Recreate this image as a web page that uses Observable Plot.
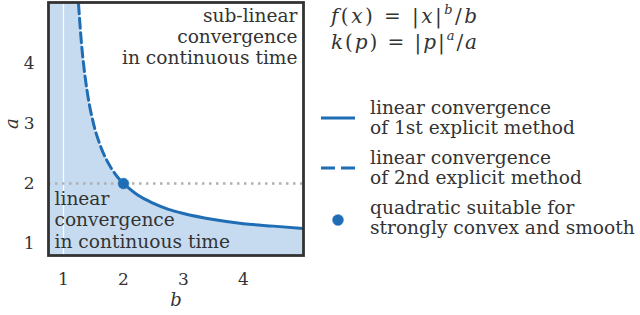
<!DOCTYPE html>
<html>
<head>
<meta charset="utf-8">
<script src="https://cdn.jsdelivr.net/npm/d3@7"></script>
<script src="https://cdn.jsdelivr.net/npm/@observablehq/plot@0.6"></script>
<style>
  html, body { margin: 0; padding: 0; background: white; }
</style>
</head>
<body>
<div id="chart"></div>
<script>
// Curve a(b): dashed part (b <= 2) and solid part (b >= 2)
const bDashed = [1.25, 1.3, 1.35, 1.4, 1.5, 1.6, 1.7, 1.8, 1.9, 2.0];
const aDashed = [5.0, 4.33, 3.86, 3.5, 3.0, 2.67, 2.43, 2.25, 2.11, 2.0];
const bSolid = [2.0, 2.25, 2.5, 2.75, 3.0, 3.5, 4.0, 4.5, 5.0];
const aSolid = [2.0, 1.8, 1.67, 1.57, 1.5, 1.4, 1.33, 1.29, 1.25];
// Shaded region: full height left of the curve, then below the curve
const bShadeLeft = [0.75];
const aShadeLeft = [5.02];
const pointB = [2];
const pointA = [2];
const xTicks = [1, 2, 3, 4];
const yTicks = [1, 2, 3, 4];
const thresholdA = [2];
const asymptoteB = [1];

const subText = "sub-linear\nconvergence\nin continuous time";
const linText = "linear\nconvergence\nin continuous time";

const legendEntries = [
  {kind: "solid", lines: ["linear convergence", "of 1st explicit method"]},
  {kind: "dashed", lines: ["linear convergence", "of 2nd explicit method"]},
  {kind: "dot", lines: ["quadratic suitable for", "strongly convex and smooth"]}
];

const dashed = bDashed.map((b, i) => ({b, a: aDashed[i]}));
const solid = bSolid.map((b, i) => ({b, a: aSolid[i]}));
const shade = bShadeLeft.map((b, i) => ({b, a: aShadeLeft[i]})).concat(dashed, solid.slice(1));
const pts = pointB.map((b, i) => ({b, a: pointA[i]}));

const blue = "#1f6db4";
const ink = "#333333";
const font = "DejaVu Serif";

const svg = Plot.plot({
  width: 640,
  height: 315,
  marginLeft: 48,
  marginRight: 337,
  marginTop: 2,
  marginBottom: 60,
  x: {domain: [0.75, 5.0]},
  y: {domain: [0.8, 5.02]},
  style: {fontFamily: font, fontSize: "17px", color: ink, background: "white"},
  marks: [
    Plot.areaY(shade, {x: "b", y1: 0.8, y2: "a", fill: "#c6dbef", curve: "monotone-x", clip: true}),
    Plot.ruleX(asymptoteB, {x: d => d, stroke: "white", strokeWidth: 1.3, strokeOpacity: 0.9}),
    Plot.ruleY(thresholdA, {y: d => d, stroke: "#b0b0b0", strokeWidth: 2.5, strokeDasharray: "2.5,4.5"}),
    Plot.line(dashed, {x: "b", y: "a", stroke: blue, strokeWidth: 3, strokeDasharray: "10,4.5", curve: "monotone-x", clip: true}),
    Plot.line(solid, {x: "b", y: "a", stroke: blue, strokeWidth: 3, curve: "monotone-x", clip: true}),
    Plot.dot(pts, {x: "b", y: "a", r: 5.5, fill: blue, stroke: "#4a8fd0", strokeWidth: 1, strokeDasharray: "1,1"}),
    Plot.text([subText], {frameAnchor: "top-right", dx: -6, dy: 5, fontSize: 18.6, lineHeight: 1.13, textAnchor: "end", fill: ink}),
    Plot.text([linText], {frameAnchor: "bottom-left", dx: 6, dy: -8, fontSize: 18.6, lineHeight: 1.13, textAnchor: "start", fill: ink}),
    Plot.frame({stroke: ink, strokeWidth: 2.8}),
    Plot.axisX({ticks: xTicks, tickFormat: d3.format("d"), tickSize: 0, tickPadding: 17, label: null, fill: ink}),
    Plot.axisY({ticks: yTicks, tickFormat: d3.format("d"), tickSize: 0, tickPadding: 14, label: null, fill: ink}),
    Plot.text(["b"], {frameAnchor: "bottom", dy: 50, fontSize: 18, fontStyle: "italic", fill: ink}),
    Plot.text(["a"], {frameAnchor: "left", dx: -36, rotate: -90, fontSize: 18, fontStyle: "italic", fill: ink})
  ]
});

const s = d3.select(svg);
const g = s.append("g").attr("font-family", font).attr("font-size", 18.6)
  .attr("fill", ink).attr("text-anchor", "start");
const it = t => `<tspan font-style="italic">${t}</tspan>`;
const sup = t => `<tspan font-style="italic" font-size="13" dy="-9">${t}</tspan>`;
g.append("text").attr("x", 331).attr("y", 23).attr("font-size", 20)
  .attr("textLength", 146).attr("lengthAdjust", "spacing")
  .html(`${it("f")}(${it("x")}) = |${it("x")}|${sup("b")}<tspan dy="9">/</tspan>${it("b")}`);
g.append("text").attr("x", 331).attr("y", 49).attr("font-size", 20)
  .attr("textLength", 146).attr("lengthAdjust", "spacing")
  .html(`${it("k")}(${it("p")}) = |${it("p")}|${sup("a")}<tspan dy="9">/</tspan>${it("a")}`);

const baseY = [114, 164, 214];
legendEntries.forEach((e, i) => {
  const y0 = baseY[i];
  const cy = y0 + 4;
  if (e.kind === "solid") {
    g.append("line").attr("x1", 321).attr("x2", 355).attr("y1", cy).attr("y2", cy)
      .attr("stroke", blue).attr("stroke-width", 3);
  } else if (e.kind === "dashed") {
    g.append("line").attr("x1", 321).attr("x2", 355).attr("y1", cy).attr("y2", cy)
      .attr("stroke", blue).attr("stroke-width", 3).attr("stroke-dasharray", "14,6");
  } else {
    g.append("circle").attr("cx", 338).attr("cy", cy + 2).attr("r", 5.5).attr("fill", blue)
      .attr("stroke", "#4a8fd0").attr("stroke-width", 1).attr("stroke-dasharray", "1,1");
  }
  e.lines.forEach((t, j) => {
    g.append("text").attr("x", 370).attr("y", y0 + j * 20).text(t);
  });
});

document.getElementById("chart").appendChild(svg);
</script>
</body>
</html>
